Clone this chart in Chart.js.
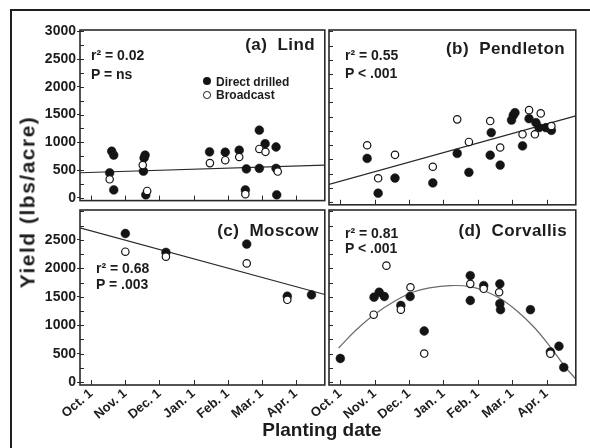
<!DOCTYPE html>
<html lang="en">
<head>
<meta charset="UTF-8">
<title>Yield vs planting date</title>
<script src="https://cdn.jsdelivr.net/npm/chart.js"></script>
<style>
    body { margin: 0; background: #fff; font-family: 'Liberation Sans', Arial, sans-serif; }
    #page { position: relative; width: 590px; height: 448px; overflow: hidden; background: #fff; }
    .frame-top { position: absolute; left: 10px; top: 9px; width: 580px; height: 2px; background: #1e1e1e; }
    .frame-left { position: absolute; left: 10px; top: 9px; width: 2px; height: 439px; background: #1e1e1e; }
    canvas { position: absolute; }
    .txt { position: absolute; font-weight: bold; color: #1c1c1c; white-space: pre; line-height: 1; }
    .title { font-size: 17px; letter-spacing: 0.4px; text-align: right; }
    .stat { font-size: 14px; }
    .leg { font-size: 12px; }
    .dot { position: absolute; border-radius: 50%; box-sizing: border-box; }
</style>
</head>
<body>
<div id="page">
    <div class="frame-top"></div>
    <div class="frame-left"></div>

    <canvas id="pa" width="300" height="190" style="left:30px;top:20px"></canvas>
    <canvas id="pb" width="291" height="190" style="left:290px;top:20px"></canvas>
    <canvas id="pc" width="300" height="248" style="left:30px;top:200px"></canvas>
    <canvas id="pd" width="291" height="248" style="left:290px;top:200px"></canvas>

    <!-- panel titles -->
    <div class="txt title" style="right:275px;top:36px">(a)  Lind</div>
    <div class="txt title" style="right:25px;top:40px">(b)  Pendleton</div>
    <div class="txt title" style="right:271px;top:222px">(c)  Moscow</div>
    <div class="txt title" style="right:23px;top:222px">(d)  Corvallis</div>

    <!-- fit statistics -->
    <div class="txt stat" style="left:91px;top:48px">r² = 0.02</div>
    <div class="txt stat" style="left:91px;top:67px">P = ns</div>
    <div class="txt stat" style="left:345px;top:48px">r² = 0.55</div>
    <div class="txt stat" style="left:345px;top:66px">P &lt; .001</div>
    <div class="txt stat" style="left:96px;top:261px">r² = 0.68</div>
    <div class="txt stat" style="left:96px;top:277px">P = .003</div>
    <div class="txt stat" style="left:345px;top:226px">r² = 0.81</div>
    <div class="txt stat" style="left:345px;top:241px">P &lt; .001</div>

    <!-- legend -->
    <div class="dot" style="left:203px;top:77px;width:8px;height:8px;background:#141414"></div>
    <div class="txt leg" style="left:216px;top:76px">Direct drilled</div>
    <div class="dot" style="left:203px;top:91px;width:7.5px;height:7.5px;border:1.2px solid #141414;background:#fff"></div>
    <div class="txt leg" style="left:216px;top:89px">Broadcast</div>

    <!-- axis titles -->
    <div class="txt" style="left:27px;top:202px;font-size:21px;letter-spacing:1.5px;transform:translate(-50%,-50%) rotate(-90deg)">Yield (lbs/acre)</div>
    <div class="txt" style="left:322px;top:429px;font-size:19px;transform:translate(-50%,-50%)">Planting date</div>
</div>

<script>
    // x is in months after Oct. 1 (Oct. 1 = 0, Nov. 1 = 1, ...)
    const monthTicks = [0, 1, 2, 3, 4, 5, 6];
    const monthLabels = ['Oct. 1', 'Nov. 1', 'Dec. 1', 'Jan. 1', 'Feb. 1', 'Mar. 1', 'Apr. 1'];
    const yLabelsTop = [0, 500, 1000, 1500, 2000, 2500, 3000];
    const yLabelsBottom = [0, 500, 1000, 1500, 2000, 2500];
    const yMinorTicks = [0, 250, 500, 750, 1000, 1250, 1500, 1750, 2000, 2250, 2500, 2750, 3000];

    // (a) Lind
    const lindDrilled = [[0.60, 840], [0.66, 770], [0.54, 451], [0.66, 142], [1.58, 771], [1.55, 720],
        [1.53, 480], [1.60, 54], [3.47, 829], [3.93, 823], [4.34, 858], [4.55, 521], [4.52, 142],
        [4.93, 1220], [5.10, 975], [4.93, 531], [5.42, 916], [5.42, 531], [5.44, 54]];
    const lindBroadcast = [[0.54, 334], [1.51, 591], [1.64, 124], [3.48, 626], [3.93, 678], [4.34, 736],
        [4.52, 66], [4.93, 881], [5.11, 829], [5.47, 474]];
    const lindFit = [[-0.33, 452], [6.85, 590]];

    // (b) Pendleton
    const pendDrilled = [[0.78, 766], [1.10, 154], [1.59, 421], [2.69, 334], [3.40, 853], [3.74, 521],
        [4.39, 1220], [4.36, 823], [4.65, 649], [5.03, 1523], [5.08, 1570], [4.98, 1441], [5.30, 986],
        [5.49, 1465], [5.69, 1395], [5.78, 1307], [5.98, 1307], [6.14, 1260]];
    const pendBroadcast = [[0.78, 998], [1.10, 416], [1.59, 829], [2.69, 619], [3.40, 1453], [3.74, 1056],
        [4.36, 1423], [4.65, 958], [5.30, 1190], [5.49, 1615], [5.66, 1190], [5.83, 1558], [6.14, 1336]];
    const pendFit = [[-0.33, 309], [6.85, 1515]];

    // (c) Moscow
    const moscowDrilled = [[1.00, 2612], [2.19, 2280], [4.56, 2427], [5.75, 1510], [6.46, 1535]];
    const moscowBroadcast = [[1.00, 2292], [2.19, 2204], [4.56, 2087], [5.75, 1447]];
    const moscowFit = [[-0.33, 2710], [6.85, 1541]];

    // (d) Corvallis
    const corvDrilled = [[0.00, 416], [0.98, 1493], [1.13, 1580], [1.28, 1505], [1.76, 1348], [2.03, 1505],
        [2.44, 899], [3.78, 1872], [3.78, 1435], [4.17, 1697], [4.64, 1727], [4.64, 1378], [4.66, 1273],
        [5.53, 1273], [6.11, 531], [6.36, 631], [6.50, 259]];
    const corvBroadcast = [[0.97, 1185], [1.34, 2047], [1.76, 1273], [2.04, 1668], [2.44, 503], [3.78, 1727],
        [4.17, 1640], [4.62, 1580], [6.11, 500]];
    const corvFit = [[-0.05, 600], [0.45, 911], [0.98, 1185], [1.61, 1435], [2.10, 1580], [2.59, 1657],
        [3.20, 1697], [3.78, 1680], [4.17, 1610], [4.66, 1465], [5.14, 1250], [5.63, 969], [6.11, 619],
        [6.50, 300], [6.84, 60]];

    Chart.defaults.font.family = "'Liberation Sans', Arial, sans-serif";
    Chart.defaults.font.weight = 'bold';

    const toXY = arr => arr.map(p => ({ x: p[0], y: p[1] }));

    // box round the plot area plus the small inward tick marks
    const panelFrame = {
        id: 'panelFrame',
        afterDatasetsDraw(chart) {
            const { ctx, chartArea: a, scales: { x, y } } = chart;
            ctx.save();
            ctx.strokeStyle = '#2a2a2a';
            ctx.lineWidth = 1;
            ctx.beginPath();
            yMinorTicks.forEach(v => {
                const py = Math.round(y.getPixelForValue(v)) + 0.5;
                ctx.moveTo(a.left, py);
                ctx.lineTo(a.left + 4, py);
            });
            monthTicks.forEach(v => {
                const px = Math.round(x.getPixelForValue(v)) + 0.5;
                ctx.moveTo(px, a.bottom);
                ctx.lineTo(px, a.bottom - 5);
            });
            ctx.stroke();
            ctx.lineWidth = 1.6;
            ctx.strokeRect(a.left, a.top, a.right - a.left, a.bottom - a.top);
            ctx.restore();
        }
    };

    function makePanel(id, drilled, broadcast, fit, opt) {
        const xScale = {
            type: 'linear', min: -0.33, max: 6.85, display: opt.xLabels,
            afterBuildTicks: s => { s.ticks = monthTicks.map(v => ({ value: v })); },
            grid: { display: true, drawOnChartArea: false, drawTicks: false },
            border: { display: false },
            ticks: {
                autoSkip: false, minRotation: 40, maxRotation: 40, padding: 1,
                color: '#1c1c1c', font: { size: 13, weight: 'bold' },
                callback: (v, i) => monthLabels[i]
            }
        };
        if (opt.xLabels) xScale.afterFit = s => { s.height = 63; };

        const yScale = {
            type: 'linear', min: -50, max: 3025, display: !!opt.yLabels,
            grid: { display: true, drawOnChartArea: false, drawTicks: true, tickLength: 3, color: '#2a2a2a' },
            border: { display: false },
            ticks: { padding: 1, color: '#1c1c1c', font: { size: 14, weight: 'bold' }, callback: v => String(v) }
        };
        if (opt.yLabels) {
            yScale.afterBuildTicks = s => { s.ticks = opt.yLabels.map(v => ({ value: v })); };
            yScale.afterFit = s => { s.width = 50; };
        }

        return new Chart(document.getElementById(id), {
            type: 'scatter',
            data: {
                datasets: [
                    {
                        label: 'Broadcast', data: toXY(broadcast), order: 1,
                        pointRadius: 3.7, pointBackgroundColor: '#fff',
                        pointBorderColor: '#141414', pointBorderWidth: 1.2
                    },
                    {
                        label: 'Direct drilled', data: toXY(drilled), order: 2,
                        pointRadius: 4.4, pointBackgroundColor: '#141414',
                        pointBorderColor: '#141414', pointBorderWidth: 0.5
                    },
                    {
                        label: 'Fit', data: toXY(fit), order: 3, showLine: true,
                        pointRadius: 0, borderColor: opt.fitColor, borderWidth: 1.2,
                        tension: opt.tension
                    }
                ]
            },
            options: {
                responsive: false,
                animation: false,
                layout: { padding: opt.pad },
                plugins: { legend: { display: false }, tooltip: { enabled: false } },
                scales: { x: xScale, y: yScale }
            },
            plugins: [panelFrame]
        });
    }

    makePanel('pa', lindDrilled, lindBroadcast, lindFit, {
        xLabels: false, yLabels: yLabelsTop, fitColor: '#2a2a2a', tension: 0,
        pad: { left: 0, top: 10, right: 5, bottom: 4 }
    });
    makePanel('pb', pendDrilled, pendBroadcast, pendFit, {
        xLabels: false, yLabels: null, fitColor: '#2a2a2a', tension: 0,
        pad: { left: 39, top: 10, right: 5, bottom: 4 }
    });
    makePanel('pc', moscowDrilled, moscowBroadcast, moscowFit, {
        xLabels: true, yLabels: yLabelsBottom, fitColor: '#2a2a2a', tension: 0,
        pad: { left: 0, top: 10, right: 5, bottom: 0 }
    });
    makePanel('pd', corvDrilled, corvBroadcast, corvFit, {
        xLabels: true, yLabels: null, fitColor: '#6a6a6a', tension: 0.4,
        pad: { left: 39, top: 10, right: 5, bottom: 0 }
    });
</script>
</body>
</html>
